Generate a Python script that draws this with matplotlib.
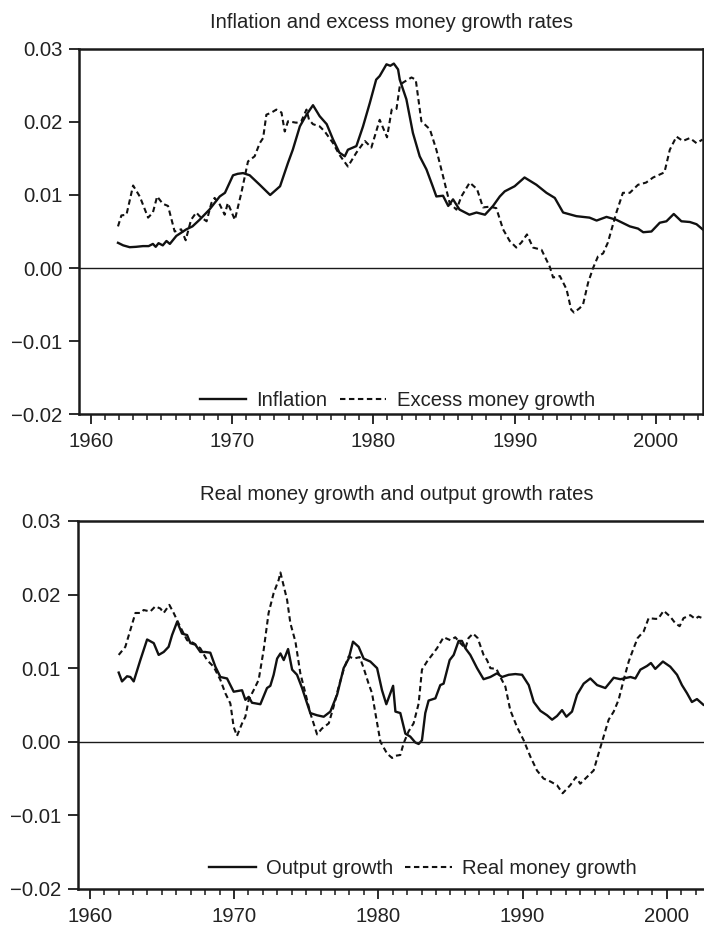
import matplotlib.pyplot as plt
from matplotlib.ticker import MultipleLocator

plt.rcParams["font.family"] = ["Liberation Sans", "DejaVu Sans"]

# top panel: inflation and excess money growth
infl_years = [1961.93, 1962.3, 1962.76, 1963.2, 1963.7, 1964.1, 1964.4, 1964.6, 1964.8, 1965.1,
              1965.36, 1965.6, 1966.06, 1966.77, 1967.2, 1967.7, 1968.4, 1969.13, 1969.5, 1970.07,
              1970.4, 1970.78, 1971.25, 1971.96, 1972.7, 1973.4, 1973.96, 1974.3, 1974.8, 1975.27,
              1975.73, 1976.2, 1976.7, 1977.15, 1977.6, 1977.98, 1978.2, 1978.8, 1979.27, 1979.75,
              1980.2, 1980.45, 1980.93, 1981.2, 1981.45, 1981.75, 1981.87, 1982.34, 1982.8, 1983.28,
              1983.76, 1984.2, 1984.46, 1984.93, 1985.3, 1985.64, 1986.1, 1986.8, 1987.3, 1987.9,
              1988.47, 1988.95, 1989.3, 1990.0, 1990.7, 1991.54, 1992.25, 1992.84, 1993.43, 1994.37,
              1995.3, 1995.8, 1996.5, 1997.2, 1998.15, 1998.73, 1999.1, 1999.68, 2000.27, 2000.74,
              2001.26, 2001.8, 2002.4, 2002.87, 2003.3]
inflation = [0.00345, 0.0031, 0.00285, 0.0029, 0.0030, 0.0030, 0.0033, 0.0029, 0.0034, 0.0031,
             0.0037, 0.0033, 0.0044, 0.0053, 0.0057, 0.0066, 0.0080, 0.0098, 0.0103, 0.0127,
             0.0129, 0.0130, 0.0127, 0.0114, 0.0100, 0.0112, 0.0144, 0.0162, 0.0194, 0.0210,
             0.0223, 0.0208, 0.0197, 0.0176, 0.0158, 0.0153, 0.0162, 0.0167, 0.0194, 0.0226,
             0.0258, 0.0263, 0.0279, 0.0277, 0.0280, 0.0272, 0.0258, 0.0231, 0.0185, 0.0153,
             0.0135, 0.0112, 0.0098, 0.0099, 0.0085, 0.0094, 0.0080, 0.0073, 0.0076, 0.0073,
             0.0085, 0.0098, 0.0105, 0.0112, 0.0124, 0.0114, 0.0103, 0.0096, 0.0076, 0.0071,
             0.0069, 0.0065, 0.0070, 0.0066, 0.0057, 0.0054, 0.0049, 0.0050, 0.0062, 0.0064,
             0.0074, 0.0064, 0.0063, 0.0060, 0.0053]

excess_years = [1961.93, 1962.17, 1962.53, 1963.0, 1963.47, 1964.06, 1964.4, 1964.7, 1965.1, 1965.47,
                1965.94, 1966.4, 1966.72, 1967.1, 1967.47, 1967.7, 1968.2, 1968.54, 1968.77, 1969.13,
                1969.48, 1969.7, 1970.2, 1970.66, 1971.13, 1971.6, 1971.96, 1972.2, 1972.43, 1972.8,
                1973.14, 1973.5, 1973.73, 1973.96, 1974.55, 1974.9, 1975.27, 1975.45, 1975.73, 1976.2,
                1976.56, 1977.15, 1977.6, 1978.2, 1978.8, 1979.4, 1979.86, 1980.45, 1980.97, 1981.3,
                1981.64, 1981.87, 1982.1, 1982.7, 1983.0, 1983.4, 1984.0, 1984.46, 1984.93, 1985.4,
                1985.88, 1986.23, 1986.82, 1987.34, 1987.76, 1988.24, 1988.7, 1989.18, 1989.65, 1990.12,
                1990.48, 1990.87, 1991.3, 1991.9, 1992.48, 1992.72, 1993.2, 1993.67, 1994.0, 1994.2,
                1994.6, 1994.84, 1995.2, 1995.55, 1995.9, 1996.26, 1996.6, 1996.73, 1997.2, 1997.66,
                1998.15, 1998.73, 1999.3, 1999.8, 2000.15, 2000.6, 2000.98, 2001.45, 2001.9, 2002.4,
                2002.87, 2003.3]
excess_money = [0.0057, 0.0072, 0.0073, 0.0113, 0.0098, 0.0069, 0.0076, 0.0098, 0.0088, 0.0085,
                0.0050, 0.0053, 0.0038, 0.0066, 0.0076, 0.0071, 0.0064, 0.0089, 0.0096, 0.0087,
                0.0073, 0.0089, 0.0066, 0.0103, 0.0146, 0.0153, 0.0171, 0.0178, 0.0210, 0.0213,
                0.0217, 0.0213, 0.0187, 0.0201, 0.0199, 0.0201, 0.0217, 0.0203, 0.0197, 0.0194,
                0.0187, 0.0171, 0.0155, 0.0139, 0.0158, 0.0174, 0.0165, 0.0203, 0.0179, 0.0217,
                0.0218, 0.0249, 0.0254, 0.0261, 0.0258, 0.0201, 0.0190, 0.0162, 0.0126, 0.0089,
                0.0080, 0.0098, 0.0117, 0.0108, 0.0083, 0.0084, 0.0082, 0.0053, 0.0037, 0.0028,
                0.0035, 0.0046, 0.0028, 0.0025, 0.0002, -0.0013, -0.0011, -0.0029, -0.0057, -0.0061,
                -0.0055, -0.0050, -0.0020, 0.0000, 0.0016, 0.0020, 0.0035, 0.0044, 0.0076, 0.0103,
                0.0103, 0.0114, 0.0117, 0.0124, 0.0127, 0.0131, 0.0162, 0.0180, 0.0174, 0.0178,
                0.0171, 0.0176]

# bottom panel: output growth and real money growth
output_years = [1962.01, 1962.24, 1962.59, 1962.82, 1963.05, 1963.51, 1963.98, 1964.44, 1964.78, 1965.13,
                1965.47, 1965.71, 1966.06, 1966.4, 1966.75, 1966.98, 1967.32, 1967.67, 1968.0, 1968.36,
                1968.71, 1969.06, 1969.52, 1969.98, 1970.56, 1970.79, 1971.02, 1971.25, 1971.83, 1972.29,
                1972.52, 1972.75, 1972.99, 1973.22, 1973.45, 1973.75, 1974.03, 1974.37, 1974.72, 1975.07,
                1975.29, 1975.76, 1976.22, 1976.68, 1977.15, 1977.6, 1977.95, 1978.25, 1978.64, 1978.99,
                1979.45, 1979.92, 1980.26, 1980.56, 1981.03, 1981.19, 1981.53, 1981.88, 1982.22, 1982.57,
                1982.8, 1983.03, 1983.26, 1983.49, 1983.96, 1984.3, 1984.53, 1984.95, 1985.23, 1985.57,
                1985.8, 1986.04, 1986.38, 1986.85, 1987.3, 1987.77, 1988.23, 1988.58, 1989.04, 1989.5,
                1989.97, 1990.43, 1990.78, 1991.24, 1991.7, 1992.05, 1992.39, 1992.74, 1993.04, 1993.43,
                1993.78, 1994.24, 1994.7, 1995.17, 1995.74, 1996.32, 1996.78, 1997.48, 1997.82, 1998.17,
                1998.63, 1998.9, 1999.2, 1999.73, 2000.24, 2000.71, 2001.05, 2001.4, 2001.74, 2002.09,
                2002.55, 2003.3]
output_growth = [0.0094, 0.0082, 0.0089, 0.0088, 0.0082, 0.0111, 0.0139, 0.0134, 0.0118, 0.0122,
                 0.0129, 0.0145, 0.0163, 0.0147, 0.0145, 0.0134, 0.0132, 0.0122, 0.0122, 0.0121,
                 0.0102, 0.0088, 0.0086, 0.0068, 0.0070, 0.0057, 0.0061, 0.0053, 0.0051, 0.0073,
                 0.0076, 0.0091, 0.0113, 0.0120, 0.0111, 0.0126, 0.0098, 0.0091, 0.0073, 0.0052,
                 0.0039, 0.0036, 0.0034, 0.0041, 0.0064, 0.0100, 0.0113, 0.0136, 0.0129, 0.0113,
                 0.0109, 0.0100, 0.0070, 0.0051, 0.0076, 0.0041, 0.0039, 0.0011, 0.0007, -0.0001,
                 -0.0003, 0.0002, 0.0039, 0.0056, 0.0059, 0.0077, 0.0079, 0.0111, 0.0118, 0.0137,
                 0.0137, 0.0127, 0.0118, 0.0100, 0.0085, 0.0088, 0.0093, 0.0088, 0.0091, 0.0092,
                 0.0091, 0.0077, 0.0054, 0.0042, 0.0036, 0.0030, 0.0035, 0.0043, 0.0034, 0.0041,
                 0.0064, 0.0079, 0.0086, 0.0077, 0.0073, 0.0087, 0.0085, 0.0088, 0.0086, 0.0098,
                 0.0103, 0.0107, 0.0099, 0.0109, 0.0102, 0.0091, 0.0077, 0.0066, 0.0054, 0.0058,
                 0.0050, 0.0047]

realm_years = [1962.01, 1962.47, 1962.82, 1963.17, 1963.51, 1963.74, 1964.2, 1964.55, 1964.9, 1965.13,
               1965.52, 1965.82, 1966.28, 1966.75, 1967.21, 1967.67, 1968.13, 1968.59, 1969.06, 1969.4,
               1969.75, 1969.98, 1970.21, 1970.56, 1970.79, 1971.02, 1971.36, 1971.71, 1972.06, 1972.4,
               1972.75, 1973.1, 1973.22, 1973.68, 1973.91, 1974.26, 1974.6, 1974.95, 1975.29, 1975.76,
               1976.1, 1976.57, 1976.91, 1977.26, 1977.6, 1977.95, 1978.29, 1978.71, 1978.99, 1979.33,
               1979.57, 1979.8, 1980.15, 1980.61, 1980.96, 1981.2, 1981.53, 1981.76, 1982.1, 1982.45,
               1982.8, 1983.03, 1983.38, 1983.73, 1984.07, 1984.53, 1985.0, 1985.34, 1985.69, 1986.04,
               1986.26, 1986.57, 1986.89, 1987.3, 1987.54, 1987.77, 1988.19, 1988.46, 1988.81, 1989.15,
               1989.62, 1990.08, 1990.54, 1991.0, 1991.46, 1991.93, 1992.39, 1992.78, 1993.31, 1993.7,
               1994.0, 1994.46, 1994.93, 1995.27, 1995.62, 1995.97, 1996.32, 1996.66, 1997.01, 1997.36,
               1997.66, 1997.98, 1998.4, 1998.74, 1999.2, 1999.4, 1999.78, 2000.24, 2000.59, 2000.89,
               2001.16, 2001.63, 2001.97, 2002.2, 2002.6, 2003.3]
real_money = [0.0118, 0.0129, 0.0152, 0.0175, 0.0175, 0.0179, 0.0177, 0.0184, 0.0181, 0.0175,
              0.0186, 0.0175, 0.0156, 0.0138, 0.0134, 0.0127, 0.0111, 0.0102, 0.0084, 0.0066,
              0.0052, 0.0020, 0.0008, 0.0025, 0.0034, 0.0057, 0.0070, 0.0084, 0.0125, 0.0175,
              0.0202, 0.0220, 0.0230, 0.0193, 0.0161, 0.0136, 0.0093, 0.0066, 0.0039, 0.0010,
              0.0018, 0.0025, 0.0048, 0.0075, 0.0098, 0.0116, 0.0113, 0.0115, 0.0100, 0.0079,
              0.0066, 0.0039, 0.0000, -0.0016, -0.0022, -0.0019, -0.0018, -0.0002, 0.0014, 0.0025,
              0.0052, 0.0098, 0.0109, 0.0118, 0.0127, 0.0142, 0.0138, 0.0142, 0.0134, 0.0127,
              0.0141, 0.0147, 0.0141, 0.0118, 0.0111, 0.0100, 0.0099, 0.0088, 0.0075, 0.0043,
              0.0020, 0.0002, -0.0020, -0.0039, -0.0050, -0.0054, -0.0059, -0.0070, -0.0059, -0.0048,
              -0.0057, -0.0048, -0.0039, -0.0016, 0.0007, 0.0030, 0.0041, 0.0057, 0.0084, 0.0109,
              0.0125, 0.0141, 0.0150, 0.0168, 0.0167, 0.0167, 0.0178, 0.0170, 0.0161, 0.0157,
              0.0168, 0.0172, 0.0167, 0.0170, 0.0167, 0.0168]

XLIM = (1959.17, 2003.33)
FS = 14.6


def style_axes(ax, title):
    ax.set_xlim(*XLIM)
    ax.set_ylim(-0.02, 0.03)
    ax.set_yticks([-0.02, -0.01, 0.0, 0.01, 0.02, 0.03])
    ax.set_yticklabels(["\u22120.02", "\u22120.01", "0.00", "0.01", "0.02", "0.03"])
    ax.set_xticks([1960, 1970, 1980, 1990, 2000])
    ax.xaxis.set_minor_locator(MultipleLocator(1))
    ax.tick_params(axis="both", which="major", length=7, width=1.3, labelsize=FS,
                   color="#1a1a1a", labelcolor="#222222")
    ax.tick_params(axis="x", which="major", pad=6)
    ax.tick_params(axis="y", which="major", pad=5)
    ax.tick_params(axis="x", which="minor", length=4, width=1.1, color="#1a1a1a")
    for sp in ax.spines.values():
        sp.set_linewidth(1.8)
        sp.set_color("#1a1a1a")
    ax.axhline(0, color="#1a1a1a", lw=1.0)
    ax.set_title(title, fontsize=FS, color="#222222", pad=15)


def main():
    fig = plt.figure(figsize=(7.04, 9.26), dpi=100)
    ax1 = fig.add_axes([0.1122, 0.5529, 0.8864, 0.3942])
    ax2 = fig.add_axes([0.1104, 0.0400, 0.9050, 0.3974])

    dash = (2.6, 1.7)

    ax1.plot(infl_years, inflation, color="#111111", lw=1.7, label="Inflation")
    ax1.plot(excess_years, excess_money, color="#111111", lw=1.5, dashes=dash,
             label="Excess money growth")
    style_axes(ax1, "Inflation and excess money growth rates")
    ax1.legend(loc="center", bbox_to_anchor=(0.51, 0.037), ncol=2, frameon=False,
               fontsize=FS, handlelength=2.3, handletextpad=0.5, columnspacing=0.6,
               labelcolor="#222222")

    ax2.plot(output_years, output_growth, color="#111111", lw=1.7, label="Output growth")
    ax2.plot(realm_years, real_money, color="#111111", lw=1.5, dashes=dash,
             label="Real money growth")
    style_axes(ax2, "Real money growth and output growth rates")
    ax2.legend(loc="center", bbox_to_anchor=(0.542, 0.056), ncol=2, frameon=False,
               fontsize=FS, handlelength=2.3, handletextpad=0.5, columnspacing=0.6,
               labelcolor="#222222")

    fig.savefig("out.png", dpi=100)
    plt.close(fig)


if __name__ == "__main__":
    main()
